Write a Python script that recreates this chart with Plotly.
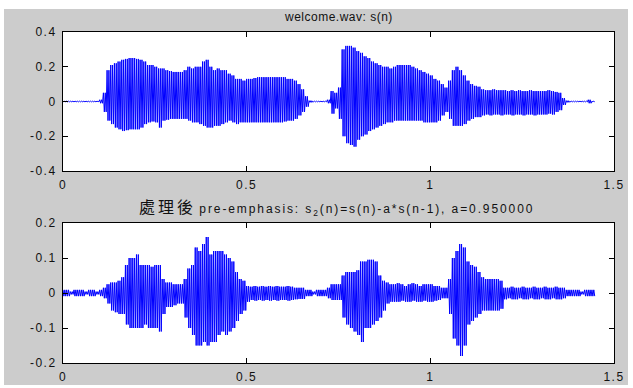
import plotly.graph_objects as go

# time grid (s), 0.01 s steps
times = [round(i * 0.01, 2) for i in range(145)]

# welcome.wav s(n): upper / lower envelope read at each time
s_hi = [0.002, 0.002, 0.002, 0.002, 0.002, 0.002, 0.002, 0.002, 0.002, 0.002,
        0.01, 0.05, 0.18, 0.21, 0.22, 0.23, 0.24, 0.245, 0.25, 0.25,
        0.245, 0.24, 0.23, 0.21, 0.21, 0.20, 0.19, 0.19, 0.18, 0.175,
        0.17, 0.17, 0.17, 0.18, 0.20, 0.19, 0.20, 0.20, 0.23, 0.24,
        0.20, 0.18, 0.19, 0.18, 0.18, 0.16, 0.15, 0.13, 0.13, 0.12,
        0.13, 0.13, 0.135, 0.14, 0.14, 0.14, 0.14, 0.14, 0.14, 0.14,
        0.14, 0.13, 0.13, 0.12, 0.10, 0.07, 0.03, 0.005, 0.002, 0.002,
        0.002, 0.002, 0.01, 0.06, 0.05, 0.08, 0.30, 0.32, 0.32, 0.31,
        0.29, 0.28, 0.26, 0.25, 0.23, 0.22, 0.21, 0.20, 0.20, 0.19,
        0.20, 0.21, 0.21, 0.21, 0.21, 0.20, 0.19, 0.18, 0.17, 0.16,
        0.15, 0.13, 0.12, 0.10, 0.08, 0.12, 0.18, 0.20, 0.18, 0.15,
        0.12, 0.10, 0.09, 0.085, 0.07, 0.065, 0.065, 0.07, 0.065, 0.065,
        0.065, 0.06, 0.065, 0.06, 0.065, 0.06, 0.06, 0.065, 0.06, 0.06,
        0.06, 0.06, 0.065, 0.06, 0.055, 0.05, 0.02, 0.005, 0.002, 0.002,
        0.002, 0.002, 0.002, 0.01, 0.002]
s_lo = [-0.002, -0.002, -0.002, -0.002, -0.002, -0.002, -0.002, -0.002, -0.002, -0.002,
        -0.01, -0.06, -0.11, -0.13, -0.15, -0.16, -0.17, -0.165, -0.16, -0.16,
        -0.16, -0.15, -0.13, -0.12, -0.115, -0.12, -0.15, -0.11, -0.105, -0.10,
        -0.10, -0.10, -0.10, -0.10, -0.11, -0.12, -0.12, -0.13, -0.14, -0.15,
        -0.15, -0.14, -0.14, -0.13, -0.12, -0.11, -0.12, -0.13, -0.12, -0.12,
        -0.12, -0.12, -0.12, -0.12, -0.12, -0.12, -0.12, -0.12, -0.12, -0.12,
        -0.115, -0.11, -0.11, -0.10, -0.08, -0.06, -0.03, -0.005, -0.002, -0.002,
        -0.002, -0.002, -0.01, -0.07, -0.04, -0.10, -0.20, -0.24, -0.25, -0.26,
        -0.22, -0.20, -0.19, -0.17, -0.16, -0.15, -0.14, -0.13, -0.12, -0.12,
        -0.11, -0.11, -0.11, -0.11, -0.11, -0.11, -0.11, -0.11, -0.12, -0.12,
        -0.12, -0.12, -0.11, -0.08, -0.06, -0.10, -0.14, -0.14, -0.14, -0.13,
        -0.11, -0.10, -0.09, -0.09, -0.08, -0.075, -0.08, -0.075, -0.075, -0.08,
        -0.075, -0.075, -0.08, -0.075, -0.075, -0.08, -0.075, -0.075, -0.08, -0.075,
        -0.075, -0.075, -0.07, -0.075, -0.06, -0.05, -0.02, -0.005, -0.002, -0.002,
        -0.002, -0.002, -0.002, -0.01, -0.002]

# pre-emphasis s2(n): upper / lower envelope
p_hi = [0.009, 0.009, 0.004, 0.009, 0.009, 0.009, 0.004, 0.009, 0.009, 0.004,
        0.009, 0.015, 0.025, 0.03, 0.03, 0.035, 0.045, 0.08, 0.10, 0.10,
        0.11, 0.08, 0.08, 0.08, 0.075, 0.08, 0.08, 0.04, 0.03, 0.03,
        0.025, 0.025, 0.025, 0.04, 0.07, 0.08, 0.13, 0.12, 0.14, 0.16,
        0.11, 0.12, 0.12, 0.12, 0.11, 0.10, 0.09, 0.06, 0.04, 0.035,
        0.02, 0.018, 0.02, 0.018, 0.02, 0.018, 0.02, 0.018, 0.02, 0.018,
        0.018, 0.02, 0.018, 0.015, 0.015, 0.015, 0.009, 0.009, 0.004, 0.009,
        0.009, 0.009, 0.015, 0.025, 0.025, 0.025, 0.05, 0.06, 0.06, 0.06,
        0.065, 0.09, 0.09, 0.095, 0.095, 0.09, 0.05, 0.035, 0.03, 0.025,
        0.025, 0.028, 0.025, 0.02, 0.025, 0.028, 0.025, 0.02, 0.025, 0.025,
        0.025, 0.02, 0.02, 0.015, 0.015, 0.04, 0.10, 0.12, 0.14, 0.13,
        0.09, 0.08, 0.075, 0.06, 0.045, 0.04, 0.04, 0.04, 0.04, 0.035,
        0.015, 0.015, 0.018, 0.015, 0.015, 0.018, 0.015, 0.015, 0.018, 0.015,
        0.015, 0.018, 0.015, 0.015, 0.018, 0.015, 0.015, 0.009, 0.009, 0.009,
        0.009, 0.004, 0.009, 0.009, 0.009]
p_lo = [-0.009, -0.009, -0.004, -0.009, -0.009, -0.009, -0.004, -0.009, -0.009, -0.004,
        -0.009, -0.015, -0.03, -0.05, -0.055, -0.06, -0.06, -0.09, -0.10, -0.10,
        -0.10, -0.10, -0.09, -0.10, -0.10, -0.10, -0.11, -0.06, -0.04, -0.04,
        -0.035, -0.03, -0.03, -0.07, -0.10, -0.12, -0.15, -0.15, -0.14, -0.15,
        -0.14, -0.14, -0.12, -0.11, -0.12, -0.11, -0.10, -0.08, -0.06, -0.05,
        -0.025, -0.02, -0.022, -0.02, -0.022, -0.02, -0.022, -0.02, -0.022, -0.02,
        -0.02, -0.022, -0.02, -0.018, -0.017, -0.017, -0.009, -0.009, -0.004, -0.009,
        -0.009, -0.009, -0.015, -0.02, -0.02, -0.02, -0.07, -0.09, -0.10, -0.11,
        -0.12, -0.14, -0.10, -0.10, -0.09, -0.08, -0.07, -0.05, -0.03, -0.025,
        -0.025, -0.025, -0.022, -0.025, -0.025, -0.022, -0.025, -0.025, -0.022, -0.025,
        -0.025, -0.022, -0.02, -0.015, -0.015, -0.06, -0.13, -0.15, -0.18, -0.15,
        -0.09, -0.08, -0.07, -0.06, -0.05, -0.05, -0.05, -0.05, -0.05, -0.045,
        -0.018, -0.015, -0.018, -0.018, -0.015, -0.018, -0.018, -0.015, -0.018, -0.018,
        -0.015, -0.018, -0.018, -0.015, -0.018, -0.018, -0.015, -0.009, -0.009, -0.009,
        -0.009, -0.004, -0.009, -0.009, -0.009]

x_ticks = [0, 0.5, 1, 1.5]
x_ticktext = ["0", "0.5", "1", "1.5"]
y1_ticks = [-0.4, -0.2, 0, 0.2, 0.4]
y1_ticktext = ["-0.4", "-0.2", "0", "0.2", "0.4"]
y2_ticks = [-0.2, -0.1, 0, 0.1, 0.2]
y2_ticktext = ["-0.2", "-0.1", "0", "0.1", "0.2"]

title1 = "welcome.wav: s(n)"
title2_cjk = "處理後"
title2_rest = "pre-emphasis: s<sub>2</sub>(n)=s(n)-a*s(n-1), a=0.950000"


def spaced(txt, px):
    return "<span style='letter-spacing:%spx'>%s</span>" % (px, txt)


def zigzag(ts, hi, lo):
    xs, ys = [], []
    for t, h, l in zip(ts, hi, lo):
        xs += [t, t + 0.0025, t + 0.005, t + 0.0075]
        ys += [h, l, h, l]
    return xs, ys


W, H = 633, 388
fig = go.Figure()
x1, y1 = zigzag(times, s_hi, s_lo)
x2, y2 = zigzag(times, p_hi, p_lo)
fig.add_trace(go.Scatter(x=x1, y=y1, mode="lines", line=dict(color="#0000ff", width=1),
                         xaxis="x", yaxis="y", showlegend=False, hoverinfo="skip"))
fig.add_trace(go.Scatter(x=x2, y=y2, mode="lines", line=dict(color="#0000ff", width=1),
                         xaxis="x2", yaxis="y2", showlegend=False, hoverinfo="skip"))

xd = [63 / W, 614 / W]
tfont = dict(family="Liberation Sans, Arial", size=12, color="#111")
axis_common = dict(showline=True, linecolor="black", linewidth=1, mirror="ticks",
                   ticks="inside", ticklen=5, tickcolor="black", showgrid=False,
                   zeroline=False, automargin=False, tickfont=tfont)

fig.update_layout(
    width=W, height=H,
    margin=dict(l=0, r=0, t=0, b=0),
    paper_bgcolor="#cccccc", plot_bgcolor="white",
    xaxis=dict(domain=xd, range=[0, 1.5], tickvals=x_ticks,
               ticktext=[spaced(t, 1.5) for t in x_ticktext],
               anchor="y", ticklabelstandoff=3, **axis_common),
    yaxis=dict(domain=[1 - 171 / H, 1 - 32 / H], range=[-0.4, 0.4], tickvals=y1_ticks,
               ticktext=[spaced(t, 1.5) for t in y1_ticktext],
               anchor="x", ticklabelstandoff=3, **axis_common),
    xaxis2=dict(domain=xd, range=[0, 1.5], tickvals=x_ticks,
                ticktext=[spaced(t, 1.5) for t in x_ticktext],
                anchor="y2", ticklabelstandoff=3, **axis_common),
    yaxis2=dict(domain=[1 - 363 / H, 1 - 223 / H], range=[-0.2, 0.2], tickvals=y2_ticks,
                ticktext=[spaced(t, 1.5) for t in y2_ticktext],
                anchor="x2", ticklabelstandoff=3, **axis_common),
    annotations=[
        dict(text=spaced(title1, 0.5), x=338 / W, y=1 - 17 / H, xref="paper", yref="paper",
             showarrow=False, xanchor="center", yanchor="middle",
             font=dict(family="Liberation Sans, Arial", size=12, color="#111")),
        dict(text="<span style='font-family:Noto Sans CJK TC;font-size:16px;letter-spacing:3px'>"
                  + title2_cjk + "</span> " + spaced(title2_rest, 1.9),
             x=336 / W, y=1 - 206 / H, xref="paper", yref="paper",
             showarrow=False, xanchor="center", yanchor="middle",
             font=dict(family="Liberation Sans, Arial", size=12, color="#111")),
    ],
    shapes=[
        dict(type="rect", xref="paper", yref="paper", x0=0, x1=1, y0=1 - 9 / H, y1=1,
             fillcolor="white", line=dict(width=0), layer="above"),
        dict(type="rect", xref="paper", yref="paper", x0=0, x1=4 / W, y0=0, y1=1,
             fillcolor="white", line=dict(width=0), layer="above"),
        dict(type="rect", xref="paper", yref="paper", x0=628 / W, x1=1, y0=0, y1=1,
             fillcolor="white", line=dict(width=0), layer="above"),
        dict(type="rect", xref="paper", yref="paper", x0=0, x1=1, y0=0, y1=3 / H,
             fillcolor="white", line=dict(width=0), layer="above"),
    ],
)

fig.write_html("out.html", config={"displayModeBar": False},
               post_script="document.body.style.margin='0';")
